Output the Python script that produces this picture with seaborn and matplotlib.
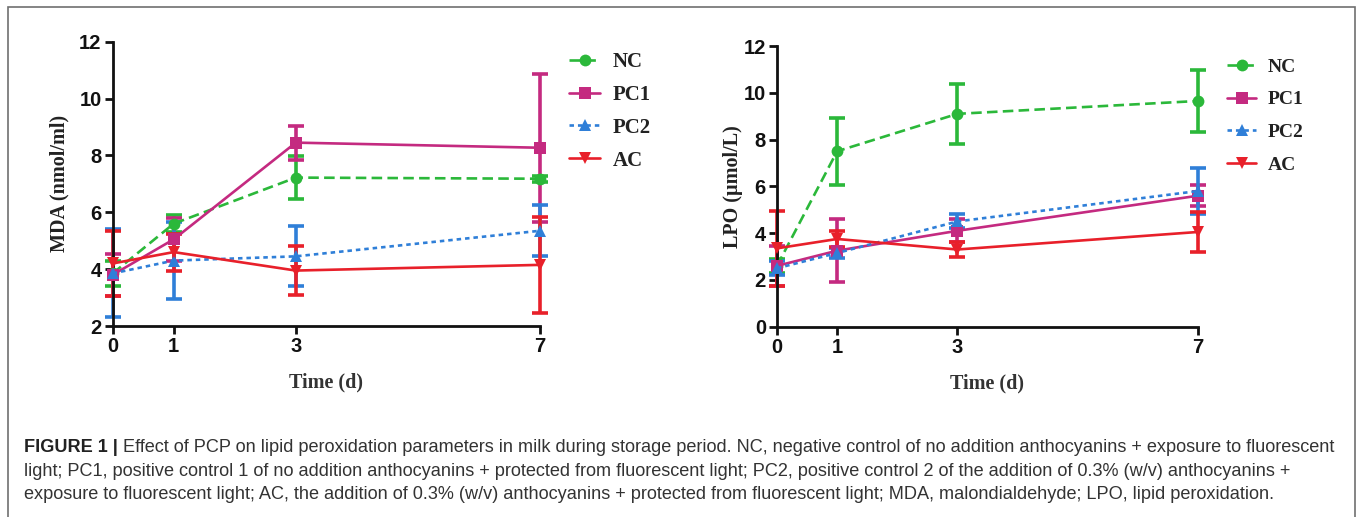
import numpy as np
import pandas as pd
import matplotlib
matplotlib.use("Agg")
import matplotlib.pyplot as plt
import seaborn as sns
from matplotlib.patches import Rectangle

sns.set_theme(style="ticks")
plt.rcParams['font.family'] = ['Liberation Sans', 'DejaVu Sans']

days = [0, 1, 3, 7]
groups = ["NC", "PC1", "PC2", "AC"]

mda_nc = [3.85, 5.60, 7.22, 7.18]
mda_nc_err = [0.45, 0.30, 0.75, 0.10]
mda_pc1 = [3.80, 5.05, 8.45, 8.27]
mda_pc1_err = [0.75, 0.75, 0.60, 2.60]
mda_pc2 = [3.85, 4.30, 4.45, 5.35]
mda_pc2_err = [1.55, 1.35, 1.05, 0.90]
mda_ac = [4.20, 4.60, 3.95, 4.15]
mda_ac_err = [1.15, 0.65, 0.85, 1.70]

lpo_nc = [2.60, 7.50, 9.10, 9.65]
lpo_nc_err = [0.30, 1.43, 1.27, 1.33]
lpo_pc1 = [2.60, 3.25, 4.10, 5.60]
lpo_pc1_err = [0.85, 1.35, 0.50, 0.45]
lpo_pc2 = [2.50, 3.15, 4.50, 5.80]
lpo_pc2_err = [0.30, 0.20, 0.30, 1.00]
lpo_ac = [3.35, 3.75, 3.30, 4.05]
lpo_ac_err = [1.60, 0.35, 0.30, 0.87]

caption_bold = "FIGURE 1 |"
caption_lines = [
    " Effect of PCP on lipid peroxidation parameters in milk during storage period. NC, negative control of no addition anthocyanins + exposure to fluorescent",
    "light; PC1, positive control 1 of no addition anthocyanins + protected from fluorescent light; PC2, positive control 2 of the addition of 0.3% (w/v) anthocyanins +",
    "exposure to fluorescent light; AC, the addition of 0.3% (w/v) anthocyanins + protected from fluorescent light; MDA, malondialdehyde; LPO, lipid peroxidation.",
]

colors = {"NC": "#2bb83a", "PC1": "#c42a80", "PC2": "#2f7fd8", "AC": "#e8202a"}
markers = {"NC": "o", "PC1": "s", "PC2": "^", "AC": "v"}
dashes = {"NC": (4, 2), "PC1": "", "PC2": (1.7, 1.5), "AC": ""}

def build(vals, errs):
    rows = []
    for g, v, e in zip(groups, vals, errs):
        for d, y, ee in zip(days, v, e):
            rows.append({"day": d, "value": y, "err": ee, "group": g})
    return pd.DataFrame(rows)

mda_df = build([mda_nc, mda_pc1, mda_pc2, mda_ac],
               [mda_nc_err, mda_pc1_err, mda_pc2_err, mda_ac_err])
lpo_df = build([lpo_nc, lpo_pc1, lpo_pc2, lpo_ac],
               [lpo_nc_err, lpo_pc1_err, lpo_pc2_err, lpo_ac_err])

W, H = 1358, 517
fig = plt.figure(figsize=(W / 100, H / 100), dpi=100)
ax1 = fig.add_axes([112.7 / W, 1 - 326 / H, 427.3 / W, 284.3 / H])
ax2 = fig.add_axes([777 / W, 1 - 326.7 / H, 421 / W, 280.7 / H])

serif = ['Liberation Serif', 'DejaVu Serif']

def draw(ax, df, ylim, yticks, ylabel, legend_anchor, legsize, legspace, ylab_x):
    for g in groups:
        sub = df[df.group == g]
        ax.errorbar(sub.day, sub.value, yerr=sub.err, fmt="none",
                    ecolor=colors[g], elinewidth=2.6, capsize=5.5, capthick=2.6, zorder=2)
    sns.lineplot(data=df, x="day", y="value", hue="group", style="group",
                 palette=colors, markers=markers, dashes=dashes, ax=ax,
                 linewidth=1.9, markersize=8.5, markeredgewidth=0, zorder=3,
                 hue_order=groups, style_order=groups)
    ax.set_xlim(0, 7)
    ax.set_ylim(*ylim)
    ax.set_xticks(days)
    ax.set_yticks(yticks)
    for lbl in ax.get_xticklabels() + ax.get_yticklabels():
        lbl.set_fontweight("bold")
        lbl.set_fontsize(14.5)
        lbl.set_color("#111111")
    ax.tick_params(axis="both", width=2, length=6, color="#111111", pad=2)
    for s in ["left", "bottom"]:
        ax.spines[s].set_linewidth(2)
        ax.spines[s].set_color("#111111")
    sns.despine(ax=ax)
    ax.set_xlabel("Time (d)", fontsize=14.5, fontweight="bold", family=serif, color="#333333")
    ax.set_ylabel(ylabel, fontsize=14.5, fontweight="bold", family=serif, color="#222222")
    ax.xaxis.set_label_coords(0.5, -0.165)
    ax.yaxis.set_label_coords(ylab_x, 0.5)
    leg = ax.legend(loc="upper left", bbox_to_anchor=legend_anchor, frameon=False,
                    prop={"family": serif, "weight": "bold", "size": legsize},
                    handlelength=1.5, labelspacing=legspace, handletextpad=0.6,
                    borderpad=0, borderaxespad=0)
    for t in leg.get_texts():
        t.set_color("#222222")
    ax.patch.set_alpha(0)
    for c in ax.get_children():
        if hasattr(c, "set_clip_on"):
            c.set_clip_on(False)

draw(ax1, mda_df, (2, 12), [2, 4, 6, 8, 10, 12], "MDA (nmol/ml)", (1.068, 0.964), 15, 0.62, -0.102)
draw(ax2, lpo_df, (0, 12), [0, 2, 4, 6, 8, 10, 12], "LPO (\u00b5mol/L)", (1.069, 0.957), 14, 0.78, -0.081)

fig.add_artist(Rectangle((8 / W, -0.05), 1347 / W, 1.05 - 7 / H,
                         transform=fig.transFigure, fill=False, edgecolor="#707070", linewidth=1.2))

baselines = [452, 475.5, 499]
x0 = 24 / W
fs = 13.05
t = fig.text(x0, 1 - baselines[0] / H, caption_bold, fontsize=fs, fontweight="bold",
             color="#222222", va="baseline", ha="left")
fig.canvas.draw()
bb = t.get_window_extent()
fig.text(bb.x1 / W, 1 - baselines[0] / H, caption_lines[0], fontsize=fs, color="#333333",
         va="baseline", ha="left")
for y, line in zip(baselines[1:], caption_lines[1:]):
    fig.text(x0, 1 - y / H, line, fontsize=fs, color="#333333", va="baseline", ha="left")

fig.savefig("out.png", dpi=100)
